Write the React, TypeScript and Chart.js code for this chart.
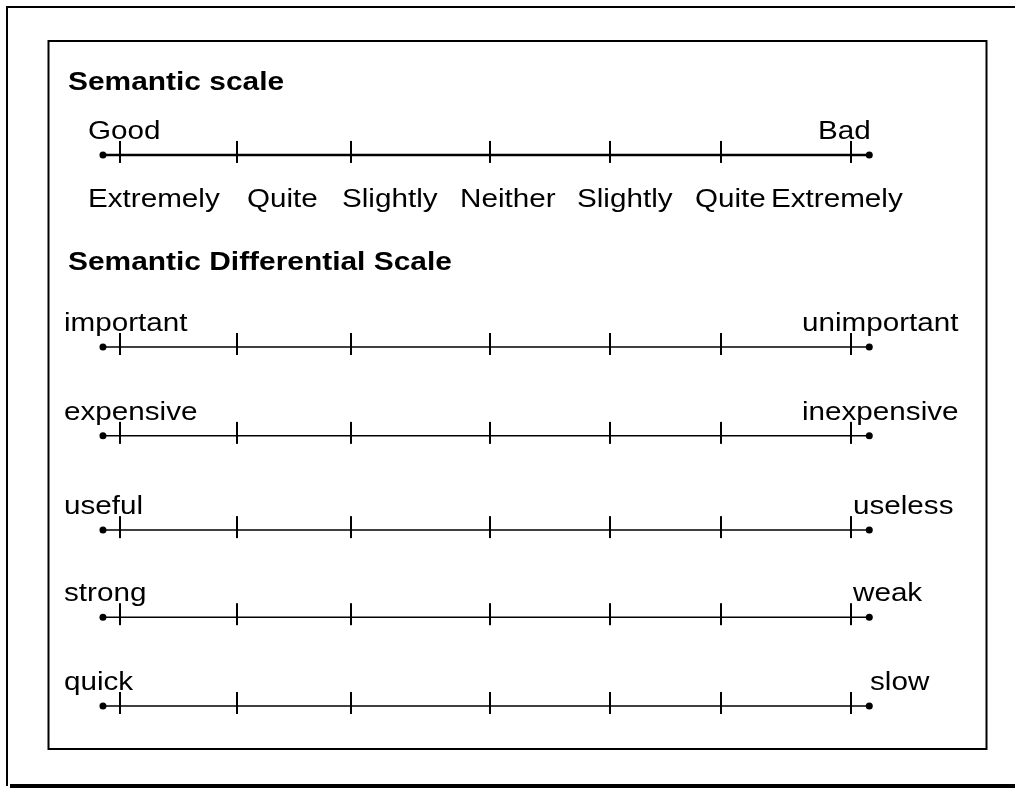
import React, { useEffect, useRef } from 'react';
import { Chart, registerables } from 'chart.js';

Chart.register(...registerables);

// ---------- data ----------
const sectionTitles = ['Semantic scale', 'Semantic Differential Scale'];
const scaleLabels = ['Extremely', 'Quite', 'Slightly', 'Neither', 'Slightly', 'Quite', 'Extremely'];
// positions of the seven scale ticks (scale points 1..7)
const scalePoints = [1, 1.96, 2.9, 4.04, 5.02, 5.93, 7];
// end dots of each scale line
const scaleEnds = [0.86, 7.15];
const leftPoles = ['Good', 'important', 'expensive', 'useful', 'strong', 'quick'];
const rightPoles = ['Bad', 'unimportant', 'inexpensive', 'useless', 'weak', 'slow'];

// ---------- layout ----------
const W = 1015;
const H = 790;
const rowY = [-2.14, 0, 0.99, 2.04, 3.01, 4];
const X_MIN = 0.015;
const X_MAX = 8.346;
const Y_MIN = -3.866;
const Y_MAX = 4.936;
const leftLabelX = [88, 64, 64, 64, 64, 64];
const rightLabelX = [818, 802, 802, 853, 853, 870];
const scaleLabelX = [88, 247, 342, 460, 577, 695, 771];
const titleBaseline = [90, 270];
const scaleLabelBaseline = 207;
const FONT = '"Liberation Sans", Arial, Helvetica, sans-serif';
const SX = 1.14;
const SX_BOLD = 1.15;

function drawText(ctx: CanvasRenderingContext2D, text: string, x: number, y: number, bold: boolean) {
  ctx.save();
  ctx.translate(x, y);
  ctx.scale(bold ? SX_BOLD : SX, 1);
  ctx.font = (bold ? 'bold ' : '') + '26px ' + FONT;
  ctx.fillStyle = '#000';
  ctx.textAlign = 'left';
  ctx.textBaseline = 'alphabetic';
  ctx.fillText(text, 0, 0);
  ctx.restore();
}

const decor = {
  id: 'decor',
  beforeDraw(chart: any) {
    const ctx = chart.ctx as CanvasRenderingContext2D;
    ctx.save();
    ctx.fillStyle = '#fff';
    ctx.fillRect(0, 0, chart.width, chart.height);
    ctx.restore();
  },
  afterDatasetsDraw(chart: any) {
    const ctx = chart.ctx as CanvasRenderingContext2D;
    const ys = chart.scales.y;
    ctx.save();
    ctx.strokeStyle = '#000';
    // outer frame
    ctx.lineWidth = 2;
    ctx.beginPath();
    ctx.moveTo(7, 786);
    ctx.lineTo(7, 7);
    ctx.lineTo(W, 7);
    ctx.stroke();
    ctx.lineWidth = 4;
    ctx.beginPath();
    ctx.moveTo(10, 786);
    ctx.lineTo(W, 786);
    ctx.stroke();
    // inner box
    ctx.lineWidth = 2;
    ctx.strokeRect(48.5, 41, 938, 708);
    ctx.restore();

    // titles
    drawText(ctx, sectionTitles[0], 68, titleBaseline[0], true);
    drawText(ctx, sectionTitles[1], 68, titleBaseline[1], true);

    // scale category labels
    scaleLabels.forEach((t, i) => drawText(ctx, t, scaleLabelX[i], scaleLabelBaseline, false));

    // pole labels
    rowY.forEach((ry, i) => {
      const py = ys.getPixelForValue(ry) - 16;
      drawText(ctx, leftPoles[i], leftLabelX[i], py, false);
      drawText(ctx, rightPoles[i], rightLabelX[i], py, false);
    });
  },
};

export default function App() {
  const ref = useRef<HTMLCanvasElement | null>(null);

  useEffect(() => {
    if (!ref.current) return;
    const tick = document.createElement('canvas');
    tick.width = 2;
    tick.height = 30;
    const tctx = tick.getContext('2d')!;
    tctx.fillStyle = '#000';
    tctx.fillRect(0, 1, 2, 22);

    const xs = [scaleEnds[0], ...scalePoints, scaleEnds[1]];
    const last = xs.length - 1;
    const datasets = rowY.map((ry, i) => ({
      label: leftPoles[i] + ' – ' + rightPoles[i],
      data: xs.map((x) => ({ x, y: ry })),
      showLine: true,
      borderColor: '#000',
      borderWidth: i === 0 ? 2.5 : 1.5,
      pointStyle: xs.map((_, j) => (j === 0 || j === last ? 'circle' : tick)) as any,
      pointRadius: xs.map((_, j) => (j === 0 || j === last ? 3.5 : 1)),
      pointBackgroundColor: '#000',
      pointBorderColor: '#000',
      pointBorderWidth: 0,
      clip: false as any,
    }));

    const chart = new Chart(ref.current, {
      type: 'scatter',
      data: { datasets },
      options: {
        animation: false,
        responsive: false,
        events: [],
        layout: { padding: 0, autoPadding: false },
        scales: {
          x: { type: 'linear', min: X_MIN, max: X_MAX, display: false },
          y: { type: 'linear', min: Y_MIN, max: Y_MAX, reverse: true, display: false },
        },
        plugins: {
          legend: { display: false },
          tooltip: { enabled: false },
          title: { display: false },
        },
      },
      plugins: [decor],
    });
    return () => chart.destroy();
  }, []);

  return (
    <div style={{ position: 'fixed', left: 0, top: 0, width: W, height: H, background: '#fff' }}>
      <canvas ref={ref} width={W} height={H} style={{ display: 'block', width: W, height: H }} />
    </div>
  );
}
